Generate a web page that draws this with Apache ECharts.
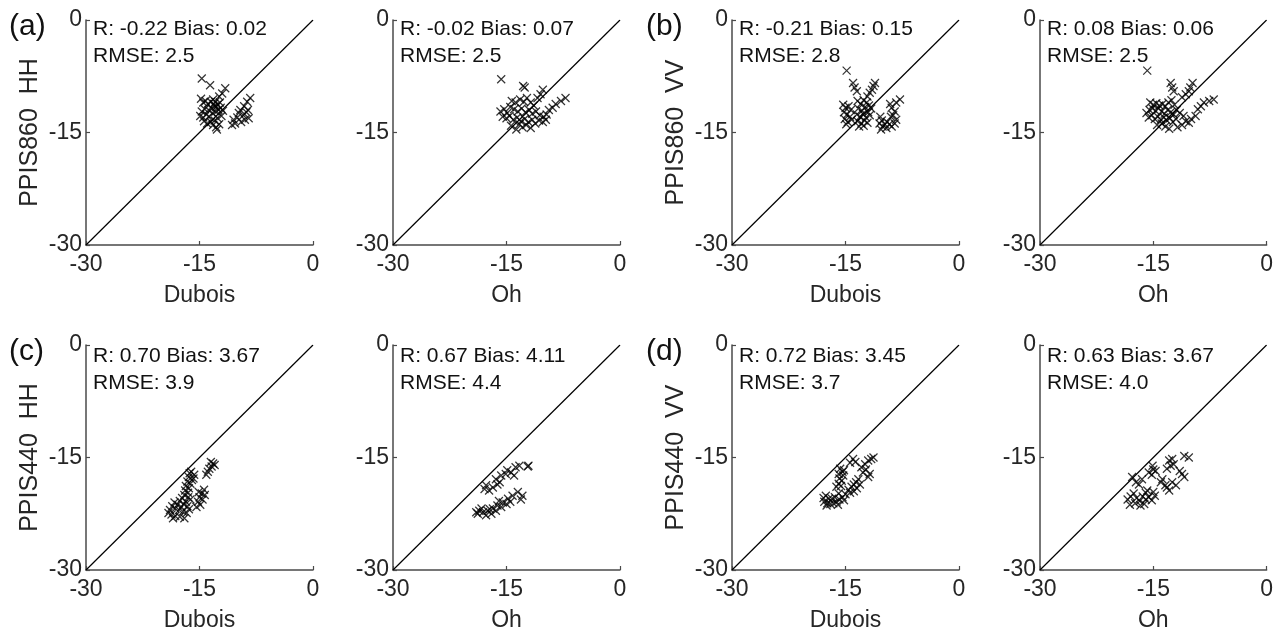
<!DOCTYPE html>
<html>
<head>
<meta charset="utf-8">
<script src="https://cdn.jsdelivr.net/npm/echarts@6/dist/echarts.min.js"></script>
<style>
  html, body { margin: 0; padding: 0; background: #fff; }
  #chart { width: 1276px; height: 639px; }
</style>
</head>
<body>
<div id="chart"></div>
<script>
var hh860Dubois = [[-14.7,-7.8],[-13.6,-8.7],[-11.6,-9.1],[-12.0,-9.8],[-12.4,-10.2],
  [-14.8,-10.5],[-14.5,-11.0],[-14.2,-10.8],[-13.9,-11.2],[-13.5,-10.9],[-13.2,-10.6],[-12.9,-10.9],
  [-12.6,-11.3],[-12.3,-11.0],[-13.0,-11.5],[-13.4,-11.8],[-13.8,-12.0],[-14.3,-11.9],[-14.7,-12.2],
  [-14.9,-12.8],[-14.5,-13.0],[-14.1,-12.6],[-13.7,-12.9],[-13.3,-12.4],[-12.9,-12.2],[-12.5,-12.0],
  [-12.2,-11.7],[-11.9,-12.1],[-12.1,-12.8],[-12.6,-13.1],[-13.0,-13.4],[-13.5,-13.6],[-14.0,-13.8],
  [-14.4,-13.5],[-13.2,-14.0],[-12.8,-14.3],[-12.4,-13.9],[-12.7,-14.6],[-13.1,-11.2],[-12.8,-11.6],
  [-8.3,-10.4],[-8.7,-10.9],[-9.1,-11.5],[-9.6,-12.0],[-9.8,-12.4],[-9.2,-12.7],[-8.8,-12.3],
  [-8.5,-13.1],[-9.0,-13.3],[-10.5,-13.3],[-10.3,-13.8],[-10.7,-14.0],[-9.5,-13.6],[-10.0,-13.0],[-8.6,-12.0]];
var hh860Oh = [[-15.7,-7.9],[-12.8,-8.8],[-12.6,-9.0],[-10.2,-9.3],[-10.5,-9.9],[-10.9,-10.4],
  [-7.2,-10.4],[-7.8,-10.8],[-8.5,-11.2],[-8.9,-11.7],[-9.4,-12.0],
  [-14.3,-10.8],[-13.8,-11.0],[-13.2,-10.6],[-12.7,-10.9],[-12.3,-10.4],[-11.8,-11.0],[-11.4,-11.4],
  [-15.8,-12.2],[-15.3,-11.9],[-14.9,-12.4],[-14.5,-11.6],[-14.0,-11.9],[-13.5,-12.2],[-13.0,-11.8],
  [-12.5,-12.3],[-12.0,-12.0],[-11.6,-12.5],[-11.1,-12.2],[-10.6,-12.7],[-10.1,-12.9],[-9.7,-12.6],
  [-15.5,-12.9],[-15.0,-13.1],[-14.6,-12.8],[-14.1,-13.3],[-13.6,-13.0],[-13.1,-13.5],[-12.6,-13.2],
  [-12.1,-13.6],[-11.6,-13.3],[-11.2,-13.8],[-10.7,-13.4],[-10.2,-13.6],[-9.8,-13.3],[-14.4,-14.1],
  [-13.7,-14.6],[-12.9,-14.3],[-12.4,-14.0],[-11.8,-14.4],[-13.3,-13.9]];
var vv860Dubois = [[-14.85,-6.75],[-14.0,-8.4],[-13.8,-9.0],[-13.5,-9.5],[-11.1,-8.4],[-11.3,-8.8],
  [-11.5,-9.3],[-11.8,-9.7],[-12.1,-10.2],[-7.8,-10.6],[-8.3,-11.0],[-9.1,-11.2],[-8.9,-11.7],
  [-8.5,-12.2],[-8.7,-12.7],
  [-15.3,-11.3],[-15.0,-11.7],[-14.6,-11.5],[-14.3,-12.0],[-15.2,-12.3],[-14.8,-12.6],[-14.4,-12.9],
  [-15.1,-13.2],[-14.7,-13.6],[-14.2,-13.3],[-14.9,-13.9],
  [-13.4,-10.8],[-13.0,-11.2],[-12.6,-10.7],[-12.2,-11.0],[-11.9,-11.4],[-13.3,-11.8],[-12.8,-12.1],
  [-12.4,-11.6],[-12.0,-12.3],[-11.6,-11.8],[-13.5,-12.6],[-13.1,-12.9],[-12.7,-12.5],[-12.3,-13.0],
  [-11.8,-12.7],[-13.4,-13.5],[-12.9,-13.8],[-12.5,-13.4],[-12.1,-13.7],[-13.2,-14.2],[-12.6,-14.1],
  [-10.4,-12.9],[-10.2,-13.4],[-10.5,-13.8],[-10.1,-14.2],[-10.3,-14.6],[-9.8,-13.9],[-9.5,-13.6],
  [-9.2,-13.9],[-8.9,-14.2],[-8.5,-13.8],[-8.3,-13.3],[-9.6,-14.4],[-9.0,-12.9]];
var vv860Oh = [[-15.8,-6.75],[-12.7,-8.4],[-12.5,-9.0],[-12.3,-9.5],[-9.8,-8.4],[-10.1,-9.0],
  [-10.3,-9.5],[-10.7,-9.9],[-11.2,-10.3],[-7.0,-10.6],[-7.6,-10.8],[-8.3,-11.0],[-8.7,-11.5],[-9.1,-11.9],
  [-15.4,-11.0],[-15.0,-11.3],[-14.6,-11.1],[-14.2,-11.4],[-13.8,-11.2],[-13.4,-11.5],[-13.0,-11.0],
  [-12.6,-10.7],[-12.2,-11.3],[-15.9,-12.4],[-15.5,-12.0],[-15.1,-11.8],[-14.7,-12.1],[-14.3,-11.8],
  [-13.9,-12.2],[-13.5,-12.5],[-13.1,-12.0],[-12.7,-12.3],[-12.3,-12.6],[-11.9,-12.0],[-11.5,-12.4],
  [-15.6,-13.0],[-15.2,-12.7],[-14.8,-13.2],[-14.4,-12.9],[-14.0,-13.3],[-13.6,-13.0],[-13.2,-13.4],
  [-12.8,-13.1],[-12.4,-13.6],[-12.0,-13.2],[-14.5,-14.0],[-13.9,-13.8],[-13.4,-14.2],[-12.9,-14.5],
  [-11.8,-14.3],[-11.2,-14.0],[-10.7,-13.5],[-10.3,-13.7],[-9.4,-12.8],[-10.0,-13.2],[-11.0,-12.8]];
var hh440Dubois = [[-13.2,-15.8],[-13.4,-16.2],[-13.7,-16.5],[-13.9,-16.9],[-14.1,-17.3],[-13.5,-15.6],[-13.0,-16.0],
  [-14.4,-19.3],[-14.7,-19.8],[-15.0,-20.3],[-14.6,-20.6],[-15.2,-20.9],[-14.9,-21.3],[-15.4,-21.6],
  [-14.3,-20.0],[-15.1,-19.6],
  [-16.1,-16.9],[-15.7,-17.3],[-16.4,-17.6],[-16.0,-18.0],[-16.6,-18.2],[-16.2,-18.5],[-16.8,-18.8],
  [-16.4,-19.1],[-16.9,-19.4],[-16.5,-19.7],[-17.0,-20.0],[-16.3,-17.1],[-15.8,-17.8],
  [-16.5,-20.3],[-16.2,-20.6],[-16.8,-20.9],[-17.3,-20.4],[-17.6,-20.8],[-17.1,-21.2],[-16.6,-21.5],
  [-17.9,-21.3],[-18.3,-21.0],[-18.6,-21.5],[-18.2,-21.8],[-17.7,-22.0],[-17.2,-22.2],[-16.7,-22.4],
  [-18.9,-22.0],[-19.1,-22.4],[-18.7,-22.6],[-18.2,-22.8],[-17.6,-22.9],[-17.0,-23.1],[-18.5,-23.1],
  [-16.4,-21.9],[-17.4,-21.6]];
var hh440Oh = [[-12.1,-16.1],[-12.2,-16.2],[-13.3,-16.1],[-13.8,-16.3],[-14.4,-17.0],[-14.9,-16.7],
  [-15.1,-17.2],[-15.7,-17.4],[-16.4,-17.9],[-15.9,-18.3],[-16.8,-19.0],[-17.7,-18.7],[-17.9,-19.2],
  [-14.0,-17.4],[-16.2,-18.6],[-17.3,-19.4],
  [-19.0,-22.3],[-18.8,-22.5],[-18.6,-22.1],[-18.1,-22.3],[-17.7,-22.7],[-17.5,-22.1],[-17.0,-22.5],
  [-16.8,-21.8],[-16.4,-22.1],[-16.2,-21.4],[-15.7,-21.6],[-15.5,-21.0],[-15.0,-21.2],[-14.8,-20.5],
  [-14.2,-20.1],[-13.5,-19.6],[-12.9,-20.1],[-13.1,-20.6],[-17.2,-21.9],[-16.0,-20.8],[-14.5,-20.9],
  [-18.3,-21.8]];
var vv440Dubois = [[-11.3,-15.0],[-11.6,-15.2],[-12.0,-15.4],[-12.4,-15.9],[-12.9,-16.3],[-14.0,-15.2],
  [-14.4,-15.7],[-13.7,-15.6],[-12.0,-17.6],[-12.7,-17.0],[-12.3,-16.6],[-11.8,-17.2],
  [-15.7,-16.5],[-15.4,-16.9],[-15.9,-17.2],[-15.3,-17.4],[-15.8,-17.8],[-15.5,-18.1],[-15.9,-18.5],
  [-15.6,-18.8],[-16.2,-18.9],[-15.2,-16.7],
  [-13.3,-17.9],[-13.6,-18.3],[-13.9,-18.6],[-14.2,-18.9],[-13.5,-19.1],[-13.9,-19.5],[-14.4,-19.7],
  [-13.1,-18.6],[-14.6,-19.3],
  [-15.0,-19.9],[-15.4,-20.3],[-15.8,-20.6],[-16.2,-20.9],[-16.6,-21.1],[-17.0,-21.2],[-17.4,-21.1],
  [-17.8,-20.9],[-17.9,-20.4],[-17.6,-20.1],[-17.2,-20.5],[-16.8,-20.5],[-16.4,-20.3],[-15.9,-19.8],
  [-16.0,-21.3],[-17.5,-21.4],[-15.2,-20.7]];
var vv440Oh = [[-10.3,-15.0],[-10.9,-14.8],[-12.5,-15.2],[-12.9,-15.4],[-12.3,-15.9],[-12.7,-16.1],
  [-13.2,-16.5],[-10.9,-17.6],[-11.2,-17.2],[-11.5,-16.8],
  [-15.1,-16.1],[-15.0,-16.6],[-14.7,-16.8],[-15.6,-17.0],[-15.2,-17.3],
  [-14.0,-18.3],[-13.8,-17.9],[-13.4,-18.7],[-12.9,-19.4],[-12.5,-18.3],[-12.0,-18.7],[-13.2,-19.0],
  [-17.8,-17.6],[-17.3,-18.3],[-16.5,-17.9],[-16.9,-18.6],
  [-18.4,-20.6],[-18.0,-20.2],[-17.6,-19.8],[-17.2,-20.4],[-16.8,-20.8],[-16.4,-20.2],[-16.0,-19.7],
  [-15.6,-20.3],[-15.2,-20.7],[-14.8,-20.1],[-16.2,-21.2],[-16.7,-21.4],[-17.4,-21.1],[-18.1,-21.3],
  [-15.8,-19.4],[-15.0,-19.6],[-16.0,-20.6]];

var panelData = [hh860Dubois, hh860Oh, vv860Dubois, vv860Oh, hh440Dubois, hh440Oh, vv440Dubois, vv440Oh];
var modelNames = ['Dubois', 'Oh', 'Dubois', 'Oh', 'Dubois', 'Oh', 'Dubois', 'Oh'];
var measNames = ['PPIS860  HH', '', 'PPIS860  VV', '', 'PPIS440  HH', '', 'PPIS440  VV', ''];
var statLine1 = ['R: -0.22 Bias: 0.02', 'R: -0.02 Bias: 0.07', 'R: -0.21 Bias: 0.15', 'R: 0.08 Bias: 0.06',
                 'R: 0.70 Bias: 3.67', 'R: 0.67 Bias: 4.11', 'R: 0.72 Bias: 3.45', 'R: 0.63 Bias: 3.67'];
var statLine2 = ['RMSE: 2.5', 'RMSE: 2.5', 'RMSE: 2.8', 'RMSE: 2.5', 'RMSE: 3.9', 'RMSE: 4.4', 'RMSE: 3.7', 'RMSE: 4.0'];
var panelTags = ['(a)', '(b)', '(c)', '(d)'];
var axisMin = -30, axisMax = 0, axisStep = 15;
var oneToOne = [[-30, -30], [0, 0]];

var FONT = 'Arial, "Liberation Sans", sans-serif';
var INK = '#262626';
var lefts = [86, 393, 732, 1040];
var tops = [20, 345];
var statTops = [16, 343];
var W = 227, H = 225;

var grids = [], xAxes = [], yAxes = [], series = [], graphics = [];
for (var i = 0; i < 8; i++) {
  var col = i % 4, row = Math.floor(i / 4);
  grids.push({ left: lefts[col], top: tops[row], width: W, height: H });
  var axisCommon = {
    gridIndex: i, type: 'value', min: axisMin, max: axisMax, interval: axisStep,
    axisLine: { show: true, onZero: false, lineStyle: { color: '#4a4a4a', width: 1.5 } },
    axisTick: { show: true, inside: true, length: 4, lineStyle: { color: '#4a4a4a', width: 1.2 } },
    splitLine: { show: false },
    nameLocation: 'middle'
  };
  xAxes.push(Object.assign({}, axisCommon, {
    name: modelNames[i], nameGap: 39,
    nameTextStyle: { fontFamily: FONT, fontSize: 23, color: INK },
    axisLabel: { margin: 8, fontFamily: FONT, fontSize: 23, color: INK }
  }));
  yAxes.push(Object.assign({}, axisCommon, {
    name: measNames[i], nameGap: 43,
    nameTextStyle: { fontFamily: FONT, fontSize: 25, color: INK },
    axisLabel: { margin: 4, fontFamily: FONT, fontSize: 23, color: INK }
  }));
  series.push({
    type: 'line', xAxisIndex: i, yAxisIndex: i, data: oneToOne,
    showSymbol: false, silent: true,
    lineStyle: { color: '#000', width: 1.2 }
  });
  series.push({
    type: 'scatter', xAxisIndex: i, yAxisIndex: i, data: panelData[i],
    symbol: 'path://M0,0L10,10M10,0L0,10', symbolSize: 8,
    itemStyle: { color: 'transparent', borderColor: '#000', borderWidth: 1.2 }
  });
  graphics.push({
    type: 'text', left: lefts[col] + 7, top: statTops[row],
    style: { text: statLine1[i] + '\n' + statLine2[i], font: '21px ' + FONT, fill: '#111', lineHeight: 27 }
  });
}
for (var k = 0; k < 4; k++) {
  graphics.push({
    type: 'text', left: k % 2 === 0 ? 9 : 646, top: (k < 2 ? tops[0] : tops[1]) - 8,
    style: { text: panelTags[k], font: '30px ' + FONT, fill: '#111' }
  });
}

var chart = echarts.init(document.getElementById('chart'));
chart.setOption({
  animation: false,
  backgroundColor: '#fff',
  grid: grids,
  xAxis: xAxes,
  yAxis: yAxes,
  series: series,
  graphic: graphics
});
</script>
</body>
</html>
